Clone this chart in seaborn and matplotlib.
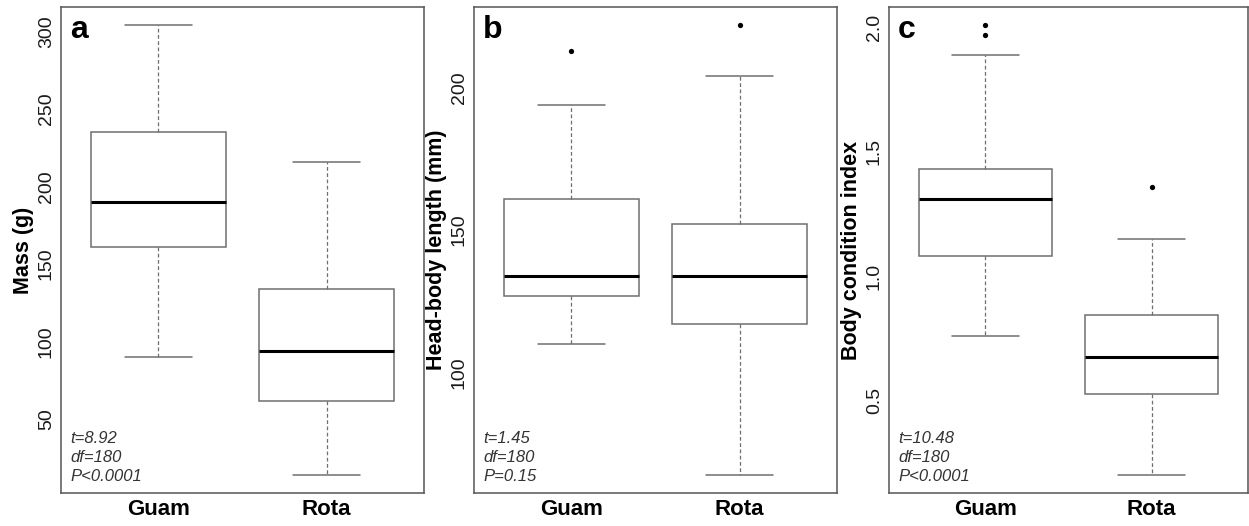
import numpy as np
import pandas as pd
import seaborn as sns
import matplotlib.pyplot as plt

# five-number summaries: whisker low, Q1, median, Q3, whisker high
groups = ["Guam", "Rota"]

mass_guam = [90, 161, 190, 235, 304]
mass_rota = [14, 62, 94, 134, 216]

hbl_guam = [110, 127, 134, 161, 194]
hbl_rota = [64, 117, 134, 152, 204]
hbl_guam_out = [213]
hbl_rota_out = [222]

bci_guam = [0.76, 1.08, 1.31, 1.43, 1.89]
bci_rota = [0.20, 0.525, 0.675, 0.845, 1.15]
bci_guam_out = [1.97, 2.01]
bci_rota_out = [1.36]

letters = ["a", "b", "c"]
ylabels = ["Mass (g)", "Head-body length (mm)", "Body condition index"]
stat_text = ["t=8.92\ndf=180\nP<0.0001",
             "t=1.45\ndf=180\nP=0.15",
             "t=10.48\ndf=180\nP<0.0001"]
yticks = [[50, 100, 150, 200, 250, 300], [100, 150, 200], [0.5, 1.0, 1.5, 2.0]]
yticklabels = [["50", "100", "150", "200", "250", "300"],
               ["100", "150", "200"],
               ["0.5", "1.0", "1.5", "2.0"]]


def make_df(guam, rota):
    return pd.DataFrame({"site": ["Guam"] * len(guam) + ["Rota"] * len(rota),
                         "value": list(guam) + list(rota)})


sns.set_theme(style="white")
plt.rcParams["font.family"] = ["Liberation Sans", "DejaVu Sans"]
plt.rcParams["text.color"] = "black"
plt.rcParams["axes.labelcolor"] = "black"

W, H = 1249, 526
fig = plt.figure(figsize=(W / 100, H / 100), dpi=100, facecolor="white")
lefts = [61, 474, 889]
widths = [363, 363, 359]
bottom, height = 33, 486

panels = [
    (make_df(mass_guam, mass_rota), None),
    (make_df(hbl_guam, hbl_rota), make_df(hbl_guam_out, hbl_rota_out)),
    (make_df(bci_guam, bci_rota), make_df(bci_guam_out, bci_rota_out)),
]

for i, (df, out) in enumerate(panels):
    ax = fig.add_axes([lefts[i] / W, bottom / H, widths[i] / W, height / H])
    sns.boxplot(data=df, x="site", y="value", order=groups, ax=ax,
                width=0.8, whis=(0, 100), color="white", linecolor="#6f6f6f",
                linewidth=1.1, showfliers=False,
                whiskerprops=dict(linestyle=(0, (3, 2)), linewidth=0.9),
                medianprops=dict(color="black", linewidth=2.2))
    allvals = df["value"].tolist()
    if out is not None:
        sns.stripplot(data=out, x="site", y="value", order=groups, ax=ax,
                      jitter=False, color="black", size=3.8, linewidth=0)
        allvals += out["value"].tolist()
    lo, hi = min(allvals), max(allvals)
    r = hi - lo
    ax.set_ylim(lo - 0.04 * r, hi + 0.04 * r)
    ax.set_xlim(-0.58, 1.58)

    ax.set_yticks(yticks[i])
    ax.set_yticklabels(yticklabels[i])
    ax.tick_params(axis="y", length=0, pad=4.5, labelsize=14, labelrotation=90,
                   colors="#1a1a1a")
    ax.tick_params(axis="x", length=0, pad=4.5, labelsize=16, colors="black")
    for lab in ax.get_xticklabels():
        lab.set_fontweight("bold")
    for lab in ax.get_yticklabels():
        lab.set_va("center")

    ax.set_xlabel("")
    ax.set_ylabel(ylabels[i], fontsize=15.5, fontweight="bold")
    ax.yaxis.set_label_coords(-27 / widths[i], 0.5)

    for sp in ax.spines.values():
        sp.set_color("#555555")
        sp.set_linewidth(1.1)

    ax.text(9 / widths[i], 1 - 8 / height, letters[i], transform=ax.transAxes,
            fontsize=23, fontweight="bold", va="top", ha="left")
    ax.text(9 / widths[i], 9 / height, stat_text[i], transform=ax.transAxes,
            fontsize=12, fontstyle="italic", color="#333333",
            va="bottom", ha="left", linespacing=1.35)

fig.savefig("out.png", dpi=100, facecolor="white")
